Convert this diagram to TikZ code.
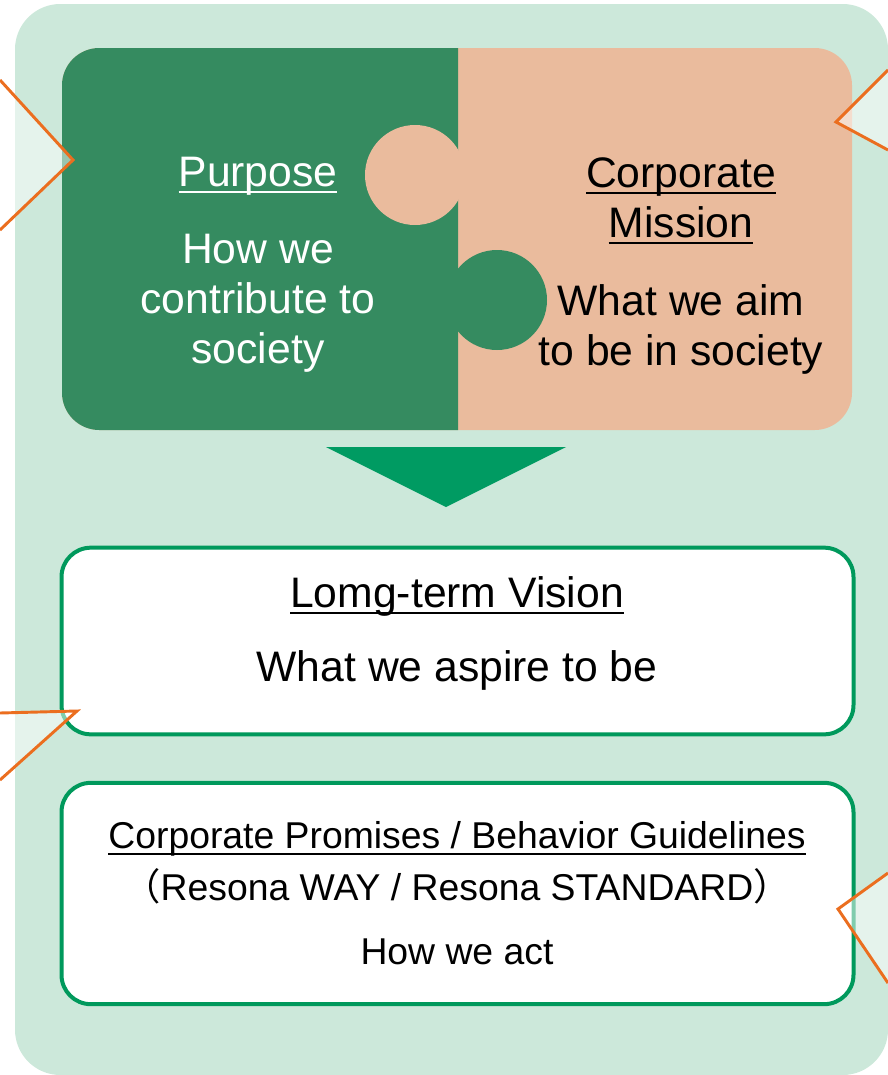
\documentclass[tikz,border=0pt]{standalone}
\usepackage{fontspec}
\setmainfont{Liberation Sans}
\newfontfamily\cjk{Noto Sans CJK JP}
\newcommand\undl[1]{\leavevmode\setbox0\hbox{#1}\rlap{\rule[-5pt]{\wd0}{1.4pt}}\box0}
\definecolor{mint}{HTML}{CCE8DA}
\definecolor{puzgreen}{HTML}{358B60}
\definecolor{puzpeach}{HTML}{EABB9D}
\definecolor{framegreen}{HTML}{00995C}
\definecolor{arrowgreen}{HTML}{009B62}
\definecolor{calloutorange}{HTML}{EB6E1F}
\begin{document}
\begin{tikzpicture}[x=0.75pt, y=-0.75pt, font=\fontsize{32}{37.5}\selectfont]
	\tikzset{
		framebox/.style={draw=framegreen, line width=3pt, fill=white, rounded corners=22pt, minimum width=594pt},
		bigtext/.style={align=center, inner sep=0pt, font=\fontsize{32}{37.5}\selectfont},
		smalltext/.style={align=center, inner sep=0pt, font=\fontsize{28}{35}\selectfont},
		callout/.style={draw=calloutorange, line width=2.2pt, line join=miter},
		calloutfill/.style={fill=white, fill opacity=0.5}
	}
	\useasboundingbox (0,0) rectangle (888,1075);
	% background panel
	\fill[mint, rounded corners=34pt] (15,4) rectangle (888,1075);
	% puzzle pieces
	\fill[puzpeach, rounded corners=28pt] (62,48) rectangle (852,430);
	\begin{scope}
		\clip (0,0) rectangle (458,1075);
		\fill[puzgreen, rounded corners=28pt] (62,48) rectangle (852,430);
	\end{scope}
	\fill[puzpeach] (415,175) circle [radius=50];
	\fill[puzgreen] (497,300) circle [radius=50];
	\node[bigtext, text=white] (purposeT) at (258,176) {\undl{Purpose}};
	\node[bigtext, text=white] (purposeB) at (258,303) {How we\\contribute to\\society};
	\node[bigtext] (missionT) at (681,201) {\undl{Corporate}\\\undl{Mission}};
	\node[bigtext] (missionB) at (681,329) {What we aim\\to be in society};
	% arrow
	\fill[arrowgreen] (326,447) -- (566,447) -- (446,507) -- cycle;
	% vision box
	\node[framebox, minimum height=140pt] (vision) at (457.5,641) {};
	\node[bigtext] (visionT) at (457,596) {\undl{Lomg-term Vision}};
	\node[bigtext] (visionB) at (457,670) {What we aspire to be};
	% promises box
	\node[framebox, minimum height=166pt] (way) at (457.5,893.5) {};
	\node[smalltext] (wayT) at (457,839) {\undl{Corporate Promises / Behavior Guidelines}};
	\node[smalltext] (wayS) at (457,886) {{\cjk （}Resona WAY / Resona STANDARD{\cjk ）}};
	\node[smalltext] (wayB) at (457,952) {How we act};
	% callout tips
	\coordinate (c1a) at (0,80);
	\coordinate (c1t) at (73,160);
	\coordinate (c1b) at (0,230);
	\coordinate (c2a) at (888,70);
	\coordinate (c2t) at (836,122);
	\coordinate (c2b) at (888,150);
	\coordinate (c3a) at (0,713);
	\coordinate (c3t) at (77,711);
	\coordinate (c3b) at (0,780);
	\coordinate (c4a) at (888,873);
	\coordinate (c4t) at (838,909);
	\coordinate (c4b) at (888,983);
	\foreach \c in {c1,c2,c3,c4}{
		\fill[calloutfill] (\c a) -- (\c t) -- (\c b) -- cycle;
		\draw[callout] (\c a) -- (\c t) -- (\c b);
	}
\end{tikzpicture}
\end{document}
